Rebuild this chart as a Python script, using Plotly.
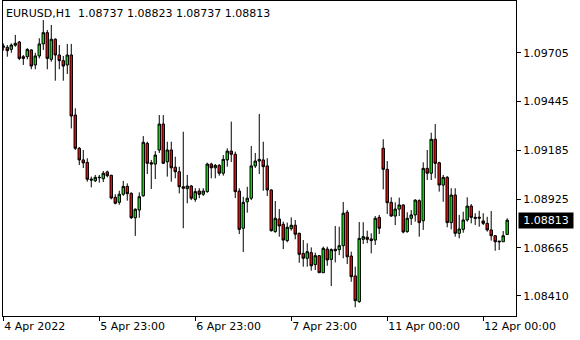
import plotly.graph_objects as go

symbol = "EURUSD,H1"

opens = [1.09734, 1.09734, 1.09723, 1.09745, 1.09762, 1.09684, 1.09684, 1.09720, 1.09640, 1.09688,
         1.09752, 1.09812, 1.09670, 1.09777, 1.09693, 1.09663, 1.09640, 1.09693, 1.09373, 1.09196,
         1.09134, 1.09121, 1.09032, 1.09023, 1.09039, 1.09034, 1.09070, 1.09052, 1.08935, 1.08908,
         1.08951, 1.08993, 1.08956, 1.08826, 1.08867, 1.08943, 1.09222, 1.09119, 1.09112, 1.09187,
         1.09325, 1.09124, 1.09187, 1.09095, 1.09071, 1.08991, 1.08981, 1.08995, 1.08924, 1.08968,
         1.08951, 1.08965, 1.09112, 1.09092, 1.09105, 1.09063, 1.09134, 1.09181, 1.09164, 1.08968,
         1.08770, 1.08911, 1.08930, 1.09102, 1.09128, 1.09134, 1.09102, 1.08974, 1.08752, 1.08819,
         1.08791, 1.08704, 1.08768, 1.08786, 1.08743, 1.08636, 1.08610, 1.08640, 1.08576, 1.08624,
         1.08533, 1.08659, 1.08604, 1.08658, 1.08656, 1.08677, 1.08855, 1.08622, 1.08516, 1.08379,
         1.08711, 1.08722, 1.08713, 1.08707, 1.08828, 1.09196, 1.09084, 1.08908, 1.08835, 1.08872,
         1.08894, 1.08752, 1.08823, 1.08841, 1.08917, 1.08810, 1.09089, 1.09063, 1.09244, 1.09119,
         1.09000, 1.09041, 1.08800, 1.08947, 1.08743, 1.08764, 1.08814, 1.08888, 1.08828, 1.08823,
         1.08809, 1.08796, 1.08761, 1.08730, 1.08702, 1.08698, 1.08737]

highs = [1.09755, 1.09746, 1.09755, 1.09800, 1.09768, 1.09693, 1.09729, 1.09723, 1.09705, 1.09782,
         1.09879, 1.09826, 1.09853, 1.09782, 1.09746, 1.09688, 1.09752, 1.09752, 1.09409, 1.09203,
         1.09187, 1.09143, 1.09045, 1.09054, 1.09054, 1.09075, 1.09077, 1.09055, 1.08951, 1.08970,
         1.09022, 1.09009, 1.08961, 1.08876, 1.08961, 1.09261, 1.09231, 1.09134, 1.09181, 1.09373,
         1.09373, 1.09231, 1.09231, 1.09151, 1.09098, 1.09284, 1.09054, 1.09000, 1.08983, 1.08983,
         1.08983, 1.09119, 1.09119, 1.09112, 1.09112, 1.09160, 1.09196, 1.09338, 1.09178, 1.08983,
         1.08938, 1.08991, 1.09208, 1.09171, 1.09379, 1.09231, 1.09143, 1.08977, 1.08915, 1.08872,
         1.08805, 1.08800, 1.08828, 1.08814, 1.08746, 1.08707, 1.08690, 1.08668, 1.08640, 1.08627,
         1.08672, 1.08672, 1.08663, 1.08782, 1.08778, 1.08910, 1.08867, 1.08645, 1.08565, 1.08803,
         1.08802, 1.08757, 1.08743, 1.08835, 1.08841, 1.09244, 1.09128, 1.08935, 1.08908, 1.08933,
         1.08897, 1.08855, 1.08867, 1.08924, 1.08924, 1.09121, 1.09187, 1.09279, 1.09325, 1.09124,
         1.09054, 1.09048, 1.08983, 1.08983, 1.08841, 1.08858, 1.08935, 1.08899, 1.08850, 1.08863,
         1.08850, 1.08831, 1.08862, 1.08734, 1.08702, 1.08755, 1.08823]

lows = [1.09716, 1.09684, 1.09705, 1.09737, 1.09666, 1.09640, 1.09670, 1.09617, 1.09617, 1.09675,
        1.09720, 1.09617, 1.09657, 1.09556, 1.09617, 1.09556, 1.09592, 1.09302, 1.09187, 1.09107,
        1.09091, 1.09018, 1.08988, 1.09016, 1.09013, 1.09016, 1.09041, 1.08924, 1.08897, 1.08895,
        1.08943, 1.08917, 1.08819, 1.08729, 1.08826, 1.08938, 1.09059, 1.08979, 1.09032, 1.09171,
        1.09112, 1.09045, 1.09018, 1.09036, 1.08956, 1.08770, 1.08903, 1.08920, 1.08911, 1.08930,
        1.08942, 1.08959, 1.09036, 1.09036, 1.09050, 1.09050, 1.09098, 1.09123, 1.08931, 1.08739,
        1.08643, 1.08853, 1.08920, 1.09091, 1.09059, 1.08970, 1.08942, 1.08752, 1.08746, 1.08725,
        1.08659, 1.08695, 1.08757, 1.08711, 1.08586, 1.08565, 1.08565, 1.08544, 1.08547, 1.08533,
        1.08533, 1.08570, 1.08462, 1.08588, 1.08627, 1.08610, 1.08579, 1.08485, 1.08349, 1.08373,
        1.08686, 1.08690, 1.08636, 1.08681, 1.08739, 1.08977, 1.08846, 1.08831, 1.08787, 1.08835,
        1.08743, 1.08746, 1.08787, 1.08805, 1.08725, 1.08761, 1.09027, 1.09027, 1.09036, 1.08965,
        1.08911, 1.08775, 1.08764, 1.08725, 1.08716, 1.08746, 1.08805, 1.08796, 1.08787, 1.08778,
        1.08787, 1.08752, 1.08704, 1.08650, 1.08654, 1.08698, 1.08737]

closes = [1.09741, 1.09716, 1.09746, 1.09755, 1.09675, 1.09675, 1.09723, 1.09634, 1.09688, 1.09752,
          1.09812, 1.09675, 1.09777, 1.09693, 1.09663, 1.09634, 1.09693, 1.09368, 1.09196, 1.09134,
          1.09118, 1.09031, 1.09027, 1.09041, 1.09041, 1.09063, 1.09050, 1.08931, 1.08903, 1.08951,
          1.08993, 1.08954, 1.08826, 1.08871, 1.08938, 1.09228, 1.09116, 1.09112, 1.09160, 1.09325,
          1.09116, 1.09187, 1.09092, 1.09071, 1.08991, 1.08983, 1.08995, 1.08930, 1.08965, 1.08951,
          1.08968, 1.09112, 1.09092, 1.09105, 1.09063, 1.09137, 1.09181, 1.09164, 1.08965, 1.08764,
          1.08908, 1.08930, 1.09102, 1.09128, 1.09137, 1.09098, 1.08974, 1.08757, 1.08823, 1.08782,
          1.08707, 1.08775, 1.08786, 1.08738, 1.08631, 1.08610, 1.08645, 1.08570, 1.08624, 1.08533,
          1.08663, 1.08601, 1.08656, 1.08650, 1.08677, 1.08850, 1.08618, 1.08512, 1.08384, 1.08716,
          1.08725, 1.08711, 1.08704, 1.08823, 1.08770, 1.09084, 1.08906, 1.08835, 1.08872, 1.08894,
          1.08750, 1.08823, 1.08841, 1.08920, 1.08800, 1.09089, 1.09063, 1.09244, 1.09116, 1.09000,
          1.09041, 1.08800, 1.08947, 1.08743, 1.08766, 1.08814, 1.08888, 1.08828, 1.08823, 1.08828,
          1.08796, 1.08761, 1.08730, 1.08698, 1.08698, 1.08730, 1.08813]

tick_idx = [0, 24, 48, 72, 96, 120]
tick_text = ["4 Apr 2022", "5 Apr 23:00", "6 Apr 23:00", "7 Apr 23:00", "11 Apr 00:00", "12 Apr 00:00"]
price_ticks = [1.09705, 1.09445, 1.09185, 1.08925, 1.08665, 1.08410]

x = list(range(len(opens)))
FONT = "DejaVu Sans"

fig = go.Figure(go.Candlestick(
    x=x, open=opens, high=highs, low=lows, close=closes,
    increasing=dict(fillcolor="#00E600", line=dict(color="black", width=1)),
    decreasing=dict(fillcolor="#FF0000", line=dict(color="black", width=1)),
    whiskerwidth=0, hoverinfo="skip", showlegend=False,
))

fig.update_layout(
    width=580, height=340,
    margin=dict(l=3, r=64, t=1, b=24),
    paper_bgcolor="white", plot_bgcolor="white",
    showlegend=False, boxgap=0.12,
    font=dict(family=FONT, size=11, color="black"),
)

fig.update_xaxes(
    range=[-0.075, 128.2], rangeslider_visible=False,
    showgrid=False, zeroline=False,
    tickmode="array", tickvals=tick_idx, ticktext=tick_text,
    ticks="outside", ticklen=4, tickcolor="black", tickwidth=1,
    ticklabelposition="outside right",
    showline=True, linecolor="black", linewidth=1, mirror=True,
    tickfont=dict(family=FONT, size=11, color="black"),
)

fig.update_yaxes(
    side="right", range=[1.083024, 1.099807],
    showgrid=False, zeroline=False,
    tickmode="array", tickvals=price_ticks, ticktext=[f"{v:.5f}" for v in price_ticks],
    ticks="outside", ticklen=4, tickcolor="black", tickwidth=1,
    showline=True, linecolor="black", linewidth=1, mirror=True,
    tickfont=dict(family=FONT, size=11, color="black"),
)

title = f"{symbol}\u00a0\u00a0{opens[-1]:.5f} {highs[-1]:.5f} {lows[-1]:.5f} {closes[-1]:.5f}"
fig.add_annotation(
    text=title, xref="paper", yref="paper", x=0, y=1,
    xanchor="left", yanchor="top", xshift=1, yshift=-4,
    showarrow=False, font=dict(family=FONT, size=11, color="black"),
)

fig.add_annotation(
    text=f"{closes[-1]:.5f}", xref="paper", yref="y", x=1, y=closes[-1],
    xanchor="left", yanchor="middle", xshift=2,
    showarrow=False, bgcolor="black", borderpad=1, width=52,
    font=dict(family=FONT, size=11, color="white"),
)

fig.write_html("out.html")
